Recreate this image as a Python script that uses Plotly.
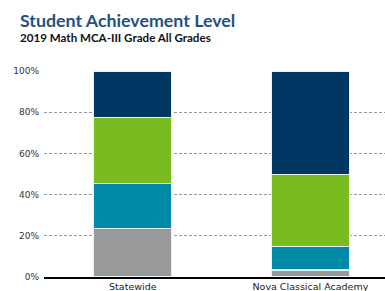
import plotly.graph_objects as go

categories = ["Statewide", "Nova Classical Academy"]
series_names = ["Does Not Meet", "Partially Meets", "Meets", "Exceeds"]
does_not_meet = [23.6, 3.4]
partially_meets = [21.9, 11.3]
meets = [32.0, 35.2]
exceeds = [22.5, 50.1]
colors = ["#98999B", "#008AA8", "#78BC20", "#003763"]
tick_vals = [0, 20, 40, 60, 80, 100]
tick_text = ["0%", "20%", "40%", "60%", "80%", "100%"]

fig = go.Figure()
for name, vals, col in zip(series_names, [does_not_meet, partially_meets, meets, exceeds], colors):
    fig.add_trace(go.Bar(
        x=categories, y=vals, name=name, width=0.44,
        marker=dict(color=col, line=dict(color="#E6F4F8", width=1.2)),
    ))

L, T, PW, PH = 44, 71, 341, 206
fig.update_layout(
    barmode="stack",
    width=385, height=291,
    margin=dict(l=L, r=0, t=T, b=14, autoexpand=False),
    plot_bgcolor="white", paper_bgcolor="white",
    showlegend=False,
    font=dict(family="DejaVu Sans", size=9, color="#333333"),
    xaxis=dict(range=[-0.5, 1.42], showline=True, linecolor="black", linewidth=2,
               tickfont=dict(family="DejaVu Sans", size=9.5, color="#222222"), ticks="",
               automargin=False, showgrid=False, fixedrange=True),
    yaxis=dict(range=[0, 100], tickvals=tick_vals, ticktext=tick_text, showgrid=True,
               gridcolor="#9A9A9A", griddash="3px,2px", gridwidth=1, zeroline=False,
               tickfont=dict(family="DejaVu Sans", size=9, color="#333333"),
               ticklabelstandoff=4, automargin=False, fixedrange=True),
)
fig.add_annotation(text="<b>Student Achievement Level</b>", xref="paper", yref="paper",
                   x=(18 - L) / PW, y=1 + (T - 20) / PH, xanchor="left", yanchor="middle",
                   showarrow=False, font=dict(family="Lato", size=17.8, color="#1F5282"))
fig.add_annotation(text="<b>2019 Math MCA-III Grade All Grades</b>", xref="paper", yref="paper",
                   x=(18 - L) / PW, y=1 + (T - 37) / PH, xanchor="left", yanchor="middle",
                   showarrow=False, font=dict(family="Lato", size=11.6, color="#111111"))
fig.write_html("out.html", config={"displayModeBar": False},
               post_script="document.body.style.margin='0px';")
